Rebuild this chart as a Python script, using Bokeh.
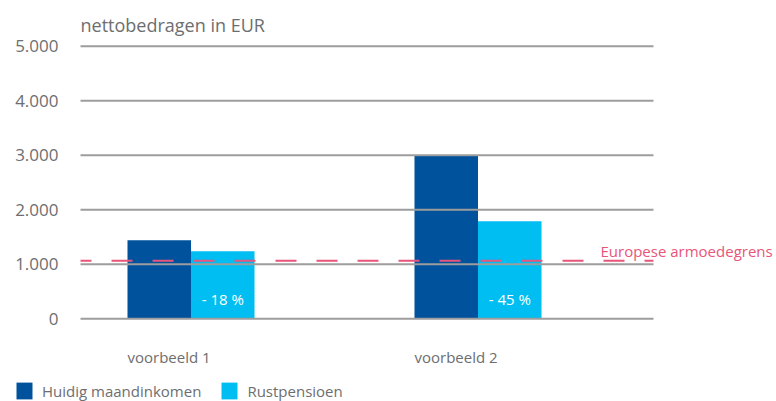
from bokeh.plotting import figure
from bokeh.models import Range1d, Legend, LegendItem, ColumnDataSource
from bokeh.transform import dodge
from bokeh.embed import file_html
from bokeh.resources import INLINE
from bokeh.core.properties import value

# ---- data -------------------------------------------------------------
categories = ["voorbeeld 1", "voorbeeld 2"]
huidig_maandinkomen = [1440, 3000]
rustpensioen = [1240, 1790]
verschil_labels = ["- 18 %", "- 45 %"]
armoedegrens = 1065
armoedegrens_label = "Europese armoedegrens"
y_ticks = [0, 1000, 2000, 3000, 4000, 5000]
y_tick_labels = ["0", "1.000", "2.000", "3.000", "4.000", "5.000"]
y_title = "nettobedragen in EUR"
series_names = ["Huidig maandinkomen", "Rustpensioen"]

# ---- style ------------------------------------------------------------
DARK = "#00529c"
LIGHT = "#00bef2"
PINK = "#e9557a"
GREY_TEXT = "#6d6e70"
GRID = "#9d9d9d"
FONT = "Open Sans"

W, H = 776, 401
bw = 0.2213                      # bar width in category units
x_lo, x_hi = -0.6638, 2.0401      # x range (category units)
y_lo, y_hi = -1517.4, 5840.4      # y range (EUR)
plot_left, plot_right = -0.385, 1.6115   # extent of the plotting area (category units)
tick_label_x = -0.4617

xs = list(range(len(categories)))
src = ColumnDataSource(dict(x=xs, huidig=huidig_maandinkomen, rust=rustpensioen,
                            lab=verschil_labels, cat=categories))

p = figure(width=W, height=H, output_backend="svg", toolbar_location=None,
           x_range=Range1d(x_lo, x_hi), y_range=Range1d(y_lo, y_hi),
           x_axis_type=None, y_axis_type=None, min_border=0)
p.outline_line_color = None
p.background_fill_color = "white"

# bars
r1 = p.vbar(x=dodge("x", -bw / 2, range=p.x_range), top="huidig", width=bw, bottom=0,
            source=src, fill_color=DARK, line_color=None)
r2 = p.vbar(x=dodge("x", bw / 2, range=p.x_range), top="rust", width=bw, bottom=0,
            source=src, fill_color=LIGHT, line_color=None)

# horizontal grid lines (drawn over the bars as in the original)
p.segment(x0=plot_left, x1=plot_right, y0=y_ticks, y1=y_ticks,
          line_color=GRID, line_width=2)

# y tick labels
p.text(x=tick_label_x, y=y_ticks, text=y_tick_labels, text_align="right",
       text_baseline="middle", text_color=GREY_TEXT, text_font=value(FONT),
       text_font_size="17px")

# y title
p.text(x=plot_left, y=5382, text=[y_title], text_align="left",
       text_baseline="alphabetic", text_color=GREY_TEXT, text_font=value(FONT),
       text_font_size="18px")

# percentage labels inside the pension bars
p.text(x=dodge("x", bw / 2, range=p.x_range), y=367, text="lab", source=src,
       text_align="center", text_baseline="alphabetic", text_color="white",
       text_font=value(FONT), text_font_size="15px")

# category labels
p.text(x=dodge("x", -bw, range=p.x_range), y=-701, text="cat", source=src,
       text_align="left", text_baseline="alphabetic", text_color=GREY_TEXT,
       text_font=value(FONT), text_font_size="15px")

# poverty line
p.segment(x0=plot_left, x1=plot_right, y0=armoedegrens, y1=armoedegrens,
          line_color=PINK, line_width=2.2, line_dash="21 20", line_dash_offset=10)
p.text(x=1.4268, y=1235, text=[armoedegrens_label], text_align="left",
       text_baseline="alphabetic", text_color=PINK, text_font=value(FONT),
       text_font_size="15px")

legend = Legend(items=[LegendItem(label=series_names[0], renderers=[r1]),
                       LegendItem(label=series_names[1], renderers=[r2])],
                location=(14, 0), orientation="horizontal",
                glyph_width=20, glyph_height=21, label_standoff=8, spacing=18,
                label_text_font=FONT, label_text_font_size="15px",
                label_text_color=GREY_TEXT, label_height=21,
                border_line_alpha=0, background_fill_alpha=0, padding=0, margin=0)
p.add_layout(legend)

open("out.html", "w").write(file_html(p, INLINE))
